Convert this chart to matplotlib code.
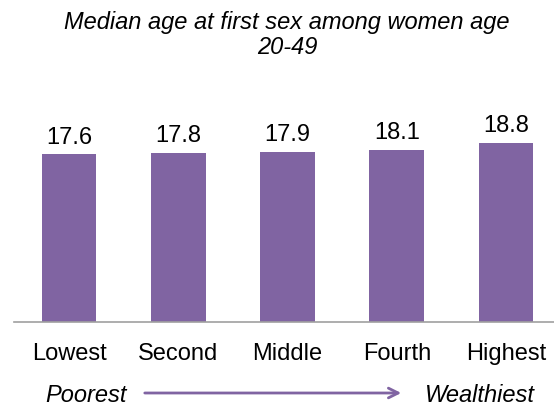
import matplotlib
matplotlib.use("Agg")
import matplotlib.pyplot as plt

categories = ["Lowest", "Second", "Middle", "Fourth", "Highest"]
values = [17.6, 17.8, 17.9, 18.1, 18.8]
title = "Median age at first sex among women age\n20-49"

purple = "#8064A2"
plt.rcParams["font.family"] = ["Liberation Sans", "DejaVu Sans"]

W, H = 554, 407
fig = plt.figure(figsize=(W / 100, H / 100), dpi=100)

# axes placed in pixel terms: baseline at y=322, left edge x=14
base_y = 322
top_y = base_y - 20 * 9.52
ax = fig.add_axes([14 / W, (H - base_y) / H, 1 - 14 / W, (base_y - top_y) / H])
x = list(range(len(categories)))
ax.bar(x, values, width=0.5, color=purple)
ax.set_xlim(-0.505, 4.44)
ax.set_ylim(0, 20)
for xi, v in zip(x, values):
    ax.text(xi, v + 1.75, f"{v:.1f}", ha="center", va="center", fontsize=17)

for s in ["top", "right", "left"]:
    ax.spines[s].set_visible(False)
ax.spines["bottom"].set_color("#A0A0A0")
ax.spines["bottom"].set_linewidth(1.2)
ax.set_yticks([])
ax.set_xticks(x)
ax.set_xticklabels(categories, fontsize=17)
ax.tick_params(axis="x", length=0, pad=15)

fig.text(287 / W, 1 - 35 / H, title, ha="center", va="center",
         fontsize=17, style="italic", linespacing=1.15)

fig.text(86 / W, 1 - 395 / H, "Poorest", ha="center", va="center",
         fontsize=17, style="italic")
fig.text(480 / W, 1 - 395 / H, "Wealthiest", ha="center", va="center",
         fontsize=17, style="italic")
fig.add_artist(matplotlib.patches.FancyArrowPatch(
    (142 / W, 1 - 393 / H), (404 / W, 1 - 393 / H),
    transform=fig.transFigure, arrowstyle="->,head_length=7,head_width=3.5",
    color=purple, linewidth=2))

fig.savefig("out.png", dpi=100)
